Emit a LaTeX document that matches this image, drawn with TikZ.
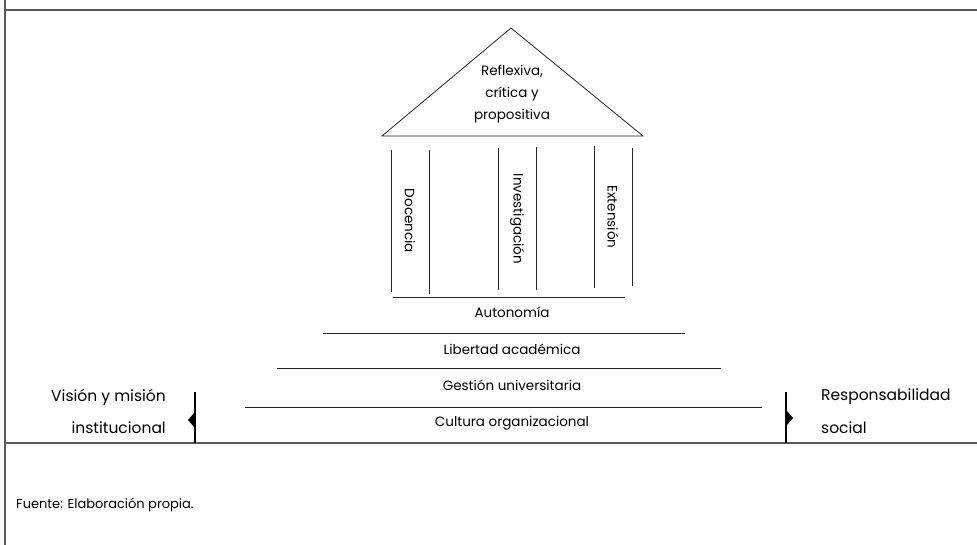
\documentclass[tikz,border=0pt]{standalone}
\usepackage{fontspec}
\setmainfont{Poppins}
\usetikzlibrary{calc}
\begin{document}
\begin{tikzpicture}[x=1pt,y=-1pt,
  ln/.style={draw=black!85,line width=0.8pt},
  frame/.style={draw=black!65,line width=1.2pt},
  lbl/.style={inner sep=0pt,font=\fontsize{13.5}{16}\selectfont},
  side/.style={inner sep=0pt,font=\fontsize{15.5}{18}\selectfont},
  thick bar/.style={draw=black,line width=2pt},
  tip/.style={fill=black}]
\useasboundingbox (0,0) rectangle (977,545);
% frame
\draw[frame] (5,0) -- (5,545);
\draw[frame] (5,10) -- (977,10);
\draw[frame] (5,443) -- (977,443);
% roof
\coordinate (apex) at (511,28);
\coordinate (bl) at (382,136);
\coordinate (br) at (643,136);
\draw[ln] (bl) -- (apex) -- (br) -- cycle;
\node[lbl,align=center,font=\fontsize{13.5}{22}\selectfont] (roof) at (512,94) {Reflexiva,\\crítica y\\propositiva};
% columns
\draw[ln] (391,150) -- (391,292);
\draw[ln] (429,150) -- (429,294);
\draw[ln] (498,148) -- (498,290);
\draw[ln] (536,147) -- (536,290);
\draw[ln] (594,146) -- (594,288);
\draw[ln] (632,148) -- (632,286);
\node[lbl,rotate=-90] (doc) at (410,221) {Docencia};
\node[lbl,rotate=-90] (inv) at (517,219) {Investigación};
\node[lbl,rotate=-90] (ext) at (613,217) {Extensión};
% steps
\draw[ln] (393,297) -- (625,297);
\node[lbl] (aut) at (512,312) {Autonomía};
\draw[ln] (323,333) -- (685,333);
\node[lbl] (lib) at (512,349) {Libertad académica};
\draw[ln] (277,368) -- (721,368);
\node[lbl] (ges) at (512,385) {Gestión universitaria};
\draw[ln] (245,407) -- (762,407);
\node[lbl] (cul) at (512,423) {Cultura organizacional};
% side bars
\draw[thick bar] (195,392) -- (195,443);
\fill[tip] (194,413) -- (188,420) -- (194,427) -- cycle;
\draw[thick bar] (786,392) -- (786,443);
\fill[tip] (787,411) -- (793,418) -- (787,425) -- cycle;
\node[side,anchor=east] (vis1) at (166,397) {Visión y misión};
\node[side,anchor=east] (vis2) at (166,428) {institucional};
\node[side,anchor=west] (res1) at (821,397) {Responsabilidad};
\node[side,anchor=west] (res2) at (821,428) {social};
% source
\node[anchor=west,inner sep=0pt,font=\fontsize{13}{16}\selectfont] (src) at (16,505) {Fuente: Elaboración propia.};
\end{tikzpicture}
\end{document}
